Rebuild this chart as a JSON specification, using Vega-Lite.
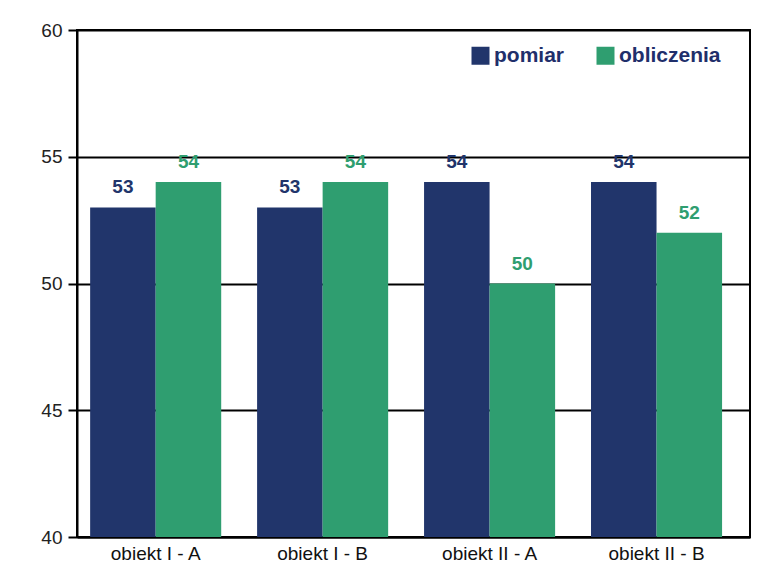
{
  "$schema": "https://vega.github.io/schema/vega-lite/v6.json",
  "autosize": {"type": "none"},
  "padding": {"left": 77, "top": 30, "right": 24, "bottom": 37},
  "width": 673,
  "height": 507,
  "background": "white",
  "data": {"values": [
    {"obiekt": "obiekt I - A", "seria": "pomiar", "wartosc": 53},
    {"obiekt": "obiekt I - A", "seria": "obliczenia", "wartosc": 54},
    {"obiekt": "obiekt I - B", "seria": "pomiar", "wartosc": 53},
    {"obiekt": "obiekt I - B", "seria": "obliczenia", "wartosc": 54},
    {"obiekt": "obiekt II - A", "seria": "pomiar", "wartosc": 54},
    {"obiekt": "obiekt II - A", "seria": "obliczenia", "wartosc": 50},
    {"obiekt": "obiekt II - B", "seria": "pomiar", "wartosc": 54},
    {"obiekt": "obiekt II - B", "seria": "obliczenia", "wartosc": 52}
  ]},
  "encoding": {
    "x": {"field": "obiekt", "type": "nominal", "sort": null,
      "scale": {"paddingInner": 0.215, "paddingOuter": 0.123, "align": 0.32},
      "axis": {"title": null, "labelAngle": 0, "labelFont": "Liberation Sans", "labelFontSize": 19, "labelColor": "#111111", "domainColor": "black", "domainWidth": 2, "ticks": false, "labelPadding": 7}},
    "xOffset": {"field": "seria", "type": "nominal", "sort": ["pomiar", "obliczenia"]},
    "y": {"field": "wartosc", "type": "quantitative",
      "scale": {"domain": [40, 60], "nice": false, "zero": false},
      "axis": {"title": null, "values": [40, 45, 50, 55, 60], "grid": true, "gridColor": "black", "gridWidth": 2, "gridOpacity": 1, "domainColor": "black", "domainWidth": 2, "tickColor": "black", "tickWidth": 2, "tickSize": 9, "labelFont": "Liberation Sans", "labelFontSize": 19, "labelColor": "#222222", "labelPadding": 6}}
  },
  "layer": [
    {"mark": {"type": "bar", "clip": true},
      "encoding": {
        "y2": {"datum": 40},
        "color": {"field": "seria", "type": "nominal", "sort": ["pomiar", "obliczenia"],
          "scale": {"domain": ["pomiar", "obliczenia"], "range": ["#21356b", "#2f9e70"]},
          "legend": {"title": null, "orient": "none", "legendX": 393, "legendY": 15, "direction": "horizontal",
            "symbolType": "square", "symbolSize": 324, "symbolStrokeWidth": 0, "symbolOpacity": 1,
            "labelFont": "Liberation Sans", "labelFontWeight": "bold", "labelFontSize": 21, "labelColor": "#1f2f6b",
            "columnPadding": 30, "labelOffset": 3}}
      }},
    {"mark": {"type": "text", "baseline": "bottom", "dy": -10, "font": "Liberation Sans", "fontSize": 19, "fontWeight": "bold"},
      "encoding": {
        "text": {"field": "wartosc", "type": "quantitative"},
        "color": {"field": "seria", "type": "nominal", "scale": {"domain": ["pomiar", "obliczenia"], "range": ["#3c3ca0", "#2f9e70"]}, "legend": null}
      }}
  ],
  "config": {"view": {"stroke": "black", "strokeWidth": 2}}
}
